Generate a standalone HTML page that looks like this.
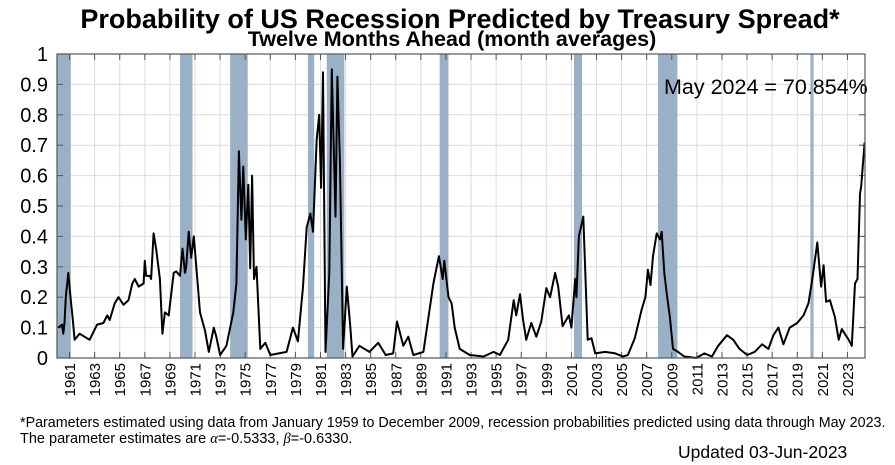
<!DOCTYPE html>
<html><head><meta charset="utf-8"><style>
body{margin:0;background:#fff;}
svg{display:block;font-family:"Liberation Sans",Arial,sans-serif;}
</style></head><body>
<svg id="chart" width="895" height="465" viewBox="0 0 895 465">
<text x="460" y="28" text-anchor="middle" font-size="27" font-weight="bold">Probability of US Recession Predicted by Treasury Spread*</text>
<text x="452" y="46" text-anchor="middle" font-size="21.5" font-weight="bold">Twelve Months Ahead (month averages)</text>
<g id="plot"></g>
<text x="664" y="94" font-size="21.5">May 2024 = 70.854%</text>
<text x="20" y="427" font-size="14.3">*Parameters estimated using data from January 1959 to December 2009, recession probabilities predicted using data through May 2023.</text>
<text x="20" y="443" font-size="14.5">The parameter estimates are <tspan font-family="Liberation Serif" font-style="italic">α</tspan>=-0.5333, <tspan font-family="Liberation Serif" font-style="italic">β</tspan>=-0.6330.</text>
<text x="678" y="458" font-size="17.5">Updated 03-Jun-2023</text>
</svg>
<script>
const years = [1960.1,1960.4,1960.5,1960.6,1960.7,1960.9,1961.1,1961.25,1961.4,1961.8,1962.6,1963.2,1963.7,1964.0,1964.2,1964.6,1964.9,1965.3,1965.7,1966.0,1966.2,1966.5,1966.9,1967.0,1967.1,1967.4,1967.5,1967.7,1967.9,1968.2,1968.4,1968.6,1968.9,1969.1,1969.3,1969.5,1969.8,1970.0,1970.2,1970.3,1970.5,1970.7,1970.9,1971.1,1971.4,1971.8,1972.1,1972.5,1972.7,1973.0,1973.5,1974.05,1974.3,1974.5,1974.7,1974.85,1975.05,1975.25,1975.4,1975.55,1975.7,1975.9,1976.2,1976.6,1977.0,1978.3,1978.8,1979.2,1979.6,1979.9,1980.2,1980.4,1980.7,1980.9,1981.05,1981.2,1981.4,1981.7,1981.9,1982.2,1982.35,1982.55,1982.8,1983.1,1983.35,1983.55,1984.1,1984.9,1985.6,1986.2,1986.8,1987.1,1987.6,1988.0,1988.4,1989.2,1990.0,1990.44,1990.74,1990.87,1991.2,1991.45,1991.7,1992.1,1992.9,1994.0,1994.8,1995.3,1995.96,1996.4,1996.6,1996.9,1997.15,1997.4,1997.8,1998.2,1998.6,1999.0,1999.3,1999.7,1999.95,2000.3,2000.8,2001.0,2001.3,2001.4,2001.6,2001.95,2002.3,2002.6,2002.9,2003.7,2004.5,2005.1,2005.5,2006.05,2006.6,2006.9,2007.1,2007.3,2007.5,2007.8,2008.05,2008.2,2008.4,2008.6,2008.85,2009.1,2009.5,2010.0,2010.95,2011.6,2012.2,2012.7,2013.4,2013.9,2014.4,2015.0,2015.6,2016.2,2016.7,2017.1,2017.5,2017.9,2018.4,2019.0,2019.5,2019.9,2020.2,2020.6,2020.9,2021.1,2021.3,2021.6,2022.0,2022.3,2022.55,2023.1,2023.35,2023.6,2023.8,2024.0,2024.1,2024.37];
const probs = [.10,.11,.08,.115,.20,.28,.19,.13,.06,.08,.06,.11,.115,.14,.125,.18,.20,.175,.19,.245,.26,.235,.245,.32,.27,.27,.26,.41,.36,.26,.08,.15,.14,.21,.28,.285,.27,.36,.28,.30,.415,.33,.40,.30,.15,.09,.02,.10,.07,.01,.04,.15,.245,.68,.455,.63,.39,.57,.295,.60,.26,.30,.03,.05,.01,.02,.10,.055,.23,.43,.475,.415,.72,.80,.56,.94,.02,.28,.95,.465,.925,.65,.03,.235,.115,.005,.04,.02,.05,.01,.015,.12,.04,.07,.01,.02,.245,.335,.26,.32,.20,.18,.10,.03,.01,.005,.02,.01,.06,.19,.14,.21,.125,.06,.115,.07,.12,.23,.20,.28,.235,.105,.14,.10,.26,.20,.40,.465,.06,.065,.015,.02,.015,.005,.01,.065,.16,.20,.29,.24,.335,.41,.39,.415,.28,.21,.135,.03,.02,.005,0,.015,.005,.04,.075,.06,.03,.01,.02,.045,.03,.075,.10,.045,.10,.115,.14,.18,.26,.38,.235,.305,.185,.19,.135,.06,.095,.06,.04,.245,.26,.54,.565,.7085];
const recessionStarts = [1960.0,1969.8,1973.8,1980.0,1981.5,1990.5,2001.2,2007.9,2020.05];
const recessionEnds = [1961.1,1970.8,1975.2,1980.5,1982.9,1991.2,2001.85,2009.45,2020.3];
const yTicks = [0,0.1,0.2,0.3,0.4,0.5,0.6,0.7,0.8,0.9,1];
const yTickLabels = ["0","0.1","0.2","0.3","0.4","0.5","0.6","0.7","0.8","0.9","1"];
const xTicks = [1961,1963,1965,1967,1969,1971,1973,1975,1977,1979,1981,1983,1985,1987,1989,1991,1993,1995,1997,1999,2001,2003,2005,2007,2009,2011,2013,2015,2017,2019,2021,2023];

const L=57,R=865,T=54,B=358,X0=1960.0,X1=2024.4;
const sx=v=>L+(v-X0)/(X1-X0)*(R-L);
const sy=v=>B-v*(B-T);
const NS="http://www.w3.org/2000/svg";
const g=document.getElementById('plot');
function mk(tag,attrs,parent){const e=document.createElementNS(NS,tag);for(const k in attrs)e.setAttribute(k,attrs[k]);(parent||g).appendChild(e);return e;}

yTicks.forEach(v=>{
  const l=mk('line',{x1:L,x2:R,y1:sy(v),y2:sy(v),stroke:'#dcdcdc','stroke-width':1});
  
  
});
xTicks.forEach(v=>{
  const l=mk('line',{x1:sx(v),x2:sx(v),y1:T,y2:B,stroke:'#dcdcdc','stroke-width':1});
  
  
});
recessionStarts.forEach((s,i)=>{
  const r=mk('rect',{x:sx(s),y:T,width:Math.max(2,sx(recessionEnds[i])-sx(s)),height:B-T,fill:'#9ab0c6'});
  
  
});
yTicks.forEach((v,i)=>{
  mk('line',{x1:L,x2:L+6,y1:sy(v),y2:sy(v),stroke:'#555'});
  mk('line',{x1:R-6,x2:R,y1:sy(v),y2:sy(v),stroke:'#555'});
  const t=mk('text',{x:48,y:sy(v)+7,'text-anchor':'end','font-size':20});
  t.textContent=yTickLabels[i];
  
  
});
xTicks.forEach(v=>{
  const x=sx(v);
  mk('line',{x1:x,x2:x,y1:B-6,y2:B,stroke:'#555'});
  mk('line',{x1:x,x2:x,y1:T,y2:T+6,stroke:'#555'});
  const t=mk('text',{x:0,y:0,'text-anchor':'end','font-size':15,transform:`translate(${x+5.5},${B+5}) rotate(-90)`});
  t.textContent=String(v);
  
  
});
const pts=years.map((y,i)=>sx(y).toFixed(1)+','+sy(probs[i]).toFixed(1)).join(' ');
const line=mk('polyline',{points:pts,fill:'none',stroke:'#000','stroke-width':2,'stroke-linejoin':'round'});


const frame=mk('rect',{x:L,y:T,width:R-L,height:B-T,fill:'none',stroke:'#555','stroke-width':1.2});


</script>
</body></html>
